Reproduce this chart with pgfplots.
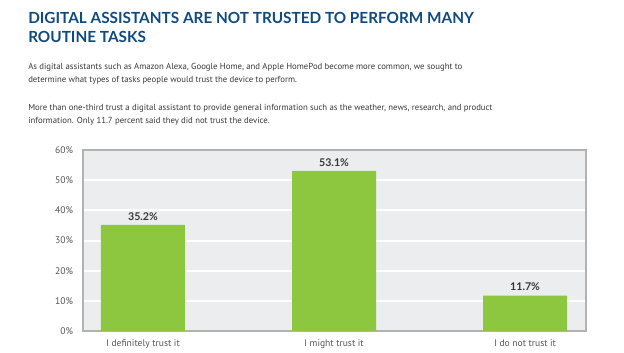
\documentclass[border=0pt]{standalone}
\usepackage{pgfplots}
\pgfplotsset{compat=1.18}
\usepackage{fontspec}
\setmainfont{Lato}
\newfontfamily\bodyfont{PT Sans}
\definecolor{titleblue}{HTML}{0F4A80}
\definecolor{bodytext}{HTML}{383838}
\definecolor{barg}{HTML}{8DC63F}
\definecolor{bgg}{HTML}{ECEDEF}
\definecolor{ticktext}{HTML}{555555}
\begin{document}
\begin{tikzpicture}[x=0.75pt,y=-0.75pt]
\path[use as bounding box] (0,0) rectangle (624,353);
\coordinate (A) at (83,331);
\node[anchor=base west,inner sep=0pt,font=\fontsize{11.5}{14}\selectfont\bfseries,text=titleblue] at (28,24) {DIGITAL ASSISTANTS ARE NOT TRUSTED TO PERFORM MANY};
\node[anchor=base west,inner sep=0pt,font=\fontsize{11.5}{14}\selectfont\bfseries,text=titleblue] at (28,43) {ROUTINE TASKS};
\node[anchor=base west,inner sep=0pt,font=\bodyfont\fontsize{6.55}{8}\selectfont,text=bodytext] at (28,69.5) {As digital assistants such as Amazon Alexa, Google Home, and Apple HomePod become more common, we sought to};
\node[anchor=base west,inner sep=0pt,font=\bodyfont\fontsize{6.55}{8}\selectfont,text=bodytext] at (28,83) {determine what types of tasks people would trust the device to perform.};
\node[anchor=base west,inner sep=0pt,font=\bodyfont\fontsize{6.55}{8}\selectfont,text=bodytext] at (28,110) {More than one-third trust a digital assistant to provide general information such as the weather, news, research, and product};
\node[anchor=base west,inner sep=0pt,font=\bodyfont\fontsize{6.55}{8}\selectfont,text=bodytext] at (28,123) {information. Only 11.7 percent said they did not trust the device.};
\begin{axis}[
  at={(A)}, anchor=south west,
  scale only axis, width=377.25pt, height=135.75pt,
  xmin=-0.314, xmax=2.319, ymin=0, ymax=60,
  axis background/.style={fill=bgg},
  axis line style={draw=black!30, line width=0.9pt},
  ytick={0,10,...,60},
  yticklabel={\pgfmathprintnumber{\tick}\%},
  xtick={0,1,2},
  xticklabels={I definitely trust it, I might trust it, I do not trust it},
  tick style={draw=none},
  ymajorgrids, grid style={white, line width=1.5pt},
  tick label style={font=\bodyfont\fontsize{7.2}{8}\selectfont, text=ticktext},
  /pgf/number format/assume math mode=true,
  yticklabel style={xshift=-4pt},
  xticklabel style={yshift=1pt},
  ybar, bar width=63pt,
  nodes near coords={\pgfmathprintnumber[fixed,precision=1,fixed zerofill]{\pgfplotspointmeta}\%},
  nodes near coords style={font=\fontsize{8}{9}\selectfont\bfseries, text=bodytext, yshift=0pt},
]
\addplot[fill=barg, draw=none] coordinates {(0,35.2) (1,53.1) (2,11.7)};
\end{axis}
\end{tikzpicture}
\end{document}
